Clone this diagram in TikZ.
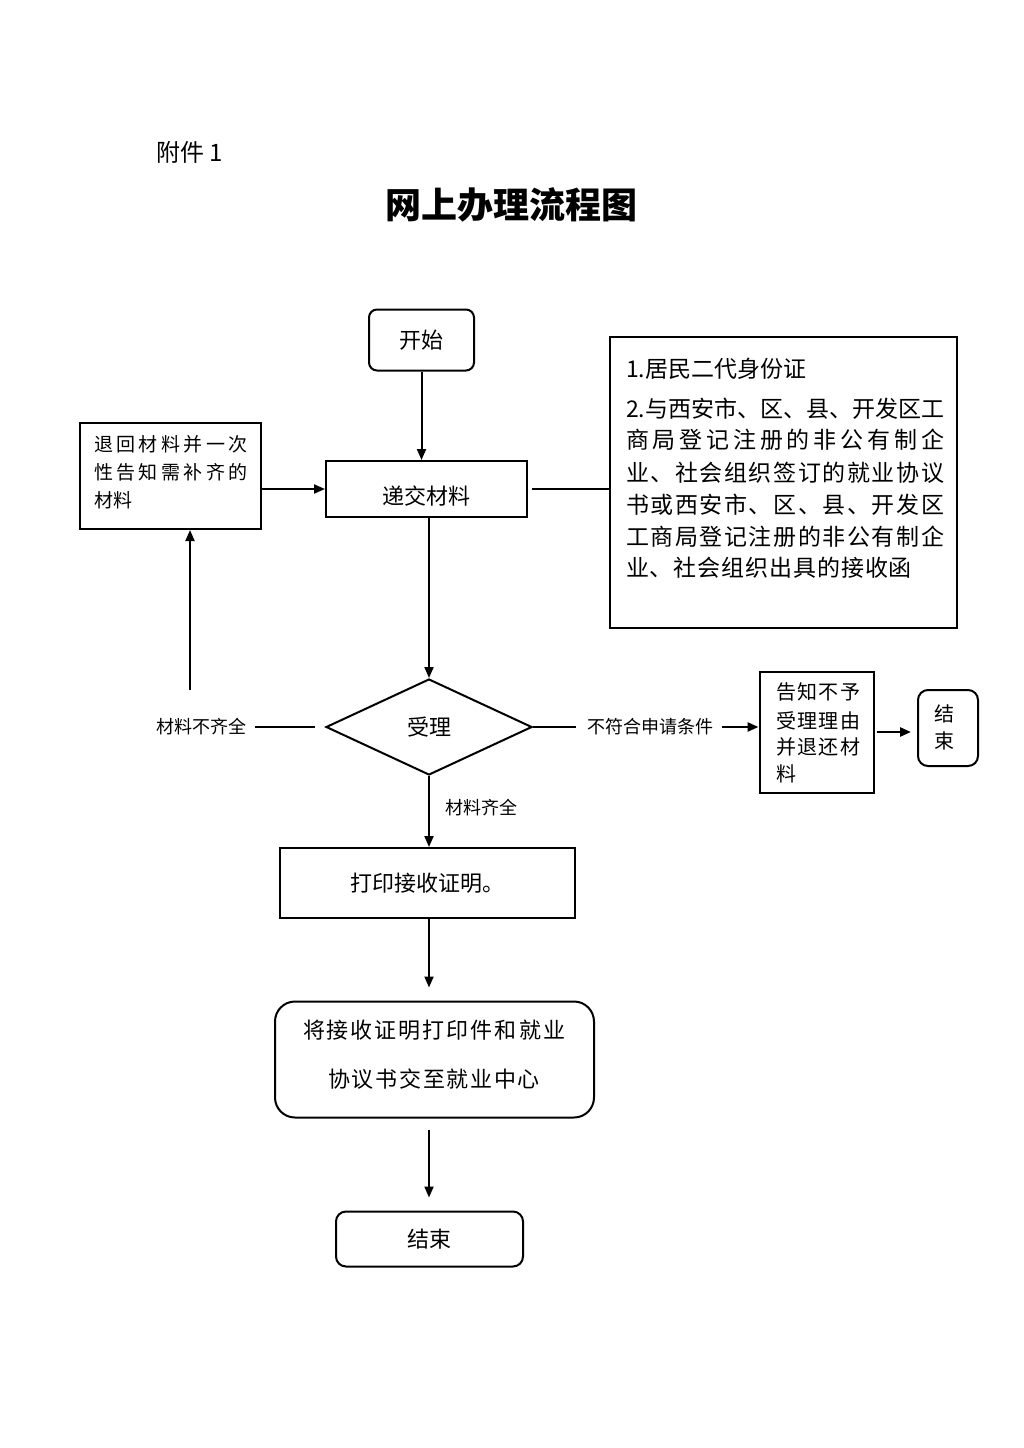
\documentclass[tikz,border=0pt]{standalone}
\usepackage{fontspec}
\setmainfont{Noto Sans CJK SC}
\usetikzlibrary{shapes.geometric,arrows.meta}
\def\spreadA#1{#1\spreadB}
\def\spreadB#1{\ifx#1\relax\else\hfill#1\expandafter\spreadB\fi}
\newcommand\spreadline[2]{\hbox to #1{\spreadA#2\relax}}
\begin{document}
\begin{tikzpicture}[x=1pt,y=-1pt,line width=2pt,
  box/.style={draw,line width=2pt,inner sep=0pt,font=\fontsize{22}{26}\selectfont},
  rbox/.style={box,rounded corners=#1},
  lbl/.style={inner sep=0pt,font=\fontsize{18}{22}\selectfont},
  txt/.style={inner sep=0pt,anchor=base west},
  ctxt/.style={inner sep=0pt,anchor=base},
  arr/.style={-{Triangle[length=11pt,width=9pt]}},
  fa/.style={font=\fontsize{23}{27}\selectfont},
  fb/.style={font=\fontsize{19}{23}\selectfont},
  fc/.style={font=\fontsize{20}{24}\selectfont},
  fd/.style={font=\fontsize{22}{26}\selectfont}]
\fill[white] (0,0) rectangle (1024,1448);
\useasboundingbox (0,0) rectangle (1024,1448);

\node[txt,font=\fontsize{24}{28}\selectfont] (fj) at (155,161) {附件 1};
\node[inner sep=0pt,font=\bfseries\fontsize{36}{40}\selectfont] (title) at (511,205) {网上办理流程图};

\node[rbox=8pt,minimum width=105pt,minimum height=61pt] (start) at (421.5,340) {开始};
\node[box,minimum width=201pt,minimum height=56pt,text depth=0pt,text height=31pt] (sub) at (426.5,489) {递交材料};

\node[box,minimum width=181pt,minimum height=106pt] (ret) at (170.5,476) {};
\node[txt,fb] (ret1) at (93,451) {\spreadline{154pt}{退回材料并一次}};
\node[txt,fb] (ret2) at (93,479) {\spreadline{154pt}{性告知需补齐的}};
\node[txt,fb] (ret3) at (93,507) {材料};

\node[box,minimum width=347pt,minimum height=291pt] (req) at (783.5,482.5) {};
\node[txt,fa] (r1) at (625,377) {1.居民二代身份证};
\node[txt,fa] (r2) at (625,417) {\spreadline{318pt}{{2.}与西安市、区、县、开发区工}};
\node[txt,fa] (r3) at (625,448) {\spreadline{318pt}{商局登记注册的非公有制企}};
\node[txt,fa] (r4) at (625,481) {\spreadline{318pt}{业、社会组织签订的就业协议}};
\node[txt,fa] (r5) at (625,513) {\spreadline{318pt}{书或西安市、区、县、开发区}};
\node[txt,fa] (r6) at (625,545) {\spreadline{318pt}{工商局登记注册的非公有制企}};
\node[txt,fa] (r7) at (625,576) {\spreadline{286pt}{业、社会组织出具的接收函}};

\node[diamond,draw,line width=2pt,minimum width=206pt,minimum height=96pt,inner sep=0pt,fd] (acc) at (429,727) {受理};
\node[lbl] (no1) at (201,727) {材料不齐全};
\node[lbl] (no2) at (650,727) {不符合申请条件};
\node[lbl] (yes) at (481,808) {材料齐全};

\node[box,minimum width=114pt,minimum height=121pt] (rej) at (816.5,732) {};
\node[txt,fc] (rj1) at (775,699) {\spreadline{84pt}{告知不予}};
\node[txt,fc] (rj2) at (775,728) {\spreadline{84pt}{受理理由}};
\node[txt,fc] (rj3) at (775,754) {\spreadline{84pt}{并退还材}};
\node[txt,fc] (rj4) at (775,781) {料};

\node[rbox=10pt,minimum width=60pt,minimum height=76pt] (end2) at (948,728) {};
\node[ctxt,fc] (e1) at (944,721) {结};
\node[ctxt,fc] (e2) at (944,748) {束};

\node[box,minimum width=295pt,minimum height=70pt] (print) at (427,883) {打印接收证明。};
\node[rbox=20pt,minimum width=319pt,minimum height=116pt] (hand) at (434.5,1059.5) {};
\node[ctxt,fd] (h1) at (434,1038) {\spreadline{262pt}{将接收证明打印件和就业}};
\node[ctxt,fd] (h2) at (434,1087) {\spreadline{212pt}{协议书交至就业中心}};
\node[rbox=10pt,minimum width=187pt,minimum height=55pt] (end) at (429.5,1239) {结束};

\draw[arr] (start.south) -- (start.south |- sub.north);
\draw[arr] (ret.east |- sub.west) -- (sub.west);
\draw ([xshift=4pt]sub.east) -- (req.west |- sub.east);
\draw[arr] (sub.south -| acc.north) -- (acc.north);
\draw ([xshift=-10pt]acc.west) -- ([xshift=8pt]no1.east |- acc.west);
\coordinate (up) at (190,690);
\draw[arr] (up) -- (up |- ret.south);
\draw (acc.east) -- ([xshift=-10pt]no2.west |- acc.east);
\draw[arr,line width=2.5pt] ([xshift=8pt]no2.east |- acc.east) -- (rej.west |- acc.east);
\draw[arr,line width=2.5pt] ([xshift=2pt]rej.east) -- ([xshift=-6pt]end2.west |- rej.east);
\draw[arr] (acc.south) -- (acc.south |- print.north);
\draw[arr,shorten >=13pt] (print.south -| acc.south) -- (hand.north -| acc.south);
\draw[arr,shorten <=11pt,shorten >=13pt] (hand.south -| acc.south) -- (end.north -| acc.south);
\end{tikzpicture}
\end{document}
